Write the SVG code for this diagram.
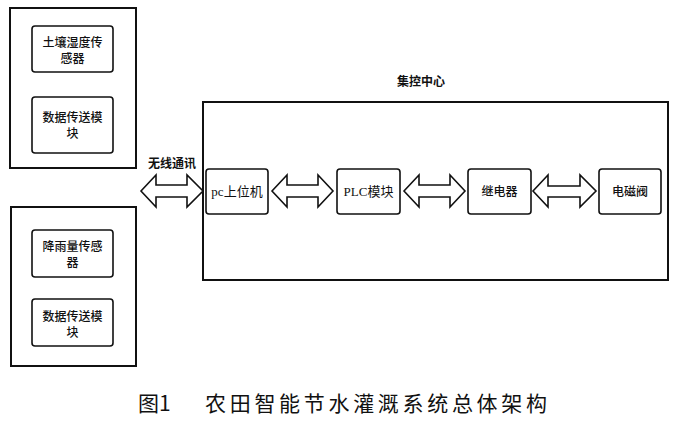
<svg xmlns="http://www.w3.org/2000/svg" width="700" height="425" viewBox="0 0 700 425">
<style>
.outer{fill:#fff;stroke:#111;stroke-width:2}
.box{fill:#fff;stroke:#111;stroke-width:1.6}
.arr{fill:#fff;stroke:#111;stroke-width:1.6;stroke-linejoin:miter}
.t{font-family:"Noto Sans CJK SC","Noto Sans",sans-serif;font-size:12px;fill:#111;text-anchor:middle;font-weight:500}
.s{font-family:"Liberation Serif","Noto Sans CJK SC",serif;font-size:13px;fill:#111;text-anchor:middle}
.b{font-family:"Noto Sans CJK SC",sans-serif;font-size:12px;font-weight:700;fill:#111;text-anchor:middle}
.cap{font-family:"Noto Sans CJK SC",sans-serif;font-size:21px;fill:#111;font-weight:400}
</style>
<rect width="700" height="425" fill="#fff"/>
<g id="group-top">
<rect class="outer" x="10" y="8" width="126" height="160"/>
</g>
<g id="soil-sensor"><rect class="box" x="32" y="26" width="81" height="46" rx="3"/><text class="t" x="72.5" y="47">土壤湿度传</text><text class="t" x="72.5" y="63">感器</text></g>
<g id="data-tx-1"><rect class="box" x="32" y="97" width="81" height="56" rx="3"/><text class="t" x="72.5" y="122">数据传送模</text><text class="t" x="72.5" y="138">块</text></g>
<g id="group-bottom">
<rect class="outer" x="11" y="207" width="125" height="159"/>
</g>
<g id="rain-sensor"><rect class="box" x="32" y="230" width="81" height="47" rx="3"/><text class="t" x="72.5" y="251">降雨量传感</text><text class="t" x="72.5" y="267">器</text></g>
<g id="data-tx-2"><rect class="box" x="32" y="299" width="81" height="47" rx="3"/><text class="t" x="72.5" y="321">数据传送模</text><text class="t" x="72.5" y="337">块</text></g>
<g id="control-center"><rect class="outer" x="203" y="102" width="465" height="178"/><text class="b" x="421" y="86">集控中心</text></g>
<g id="pc"><rect class="box" x="206" y="169" width="62" height="45" rx="3"/><text class="s" x="237" y="196">pc上位机</text></g>
<g id="plc"><rect class="box" x="337" y="169" width="63" height="45" rx="3"/><text class="s" x="368.5" y="196">PLC模块</text></g>
<g id="relay"><rect class="box" x="468" y="169" width="63" height="45" rx="3"/><text class="t" x="499.5" y="196">继电器</text></g>
<g id="valve"><rect class="box" x="599" y="169" width="62" height="45" rx="3"/><text class="t" x="630" y="196">电磁阀</text></g>
<g id="connectors">
<path class="arr" d="M141 191 L156 175 L156 185 L187 185 L187 175 L203 191 L187 207 L187 197 L156 197 L156 207 Z"/>
<text class="b" x="172" y="168">无线通讯</text>
<path class="arr" d="M272 191 L287 175 L287 185 L318 185 L318 175 L333 191 L318 207 L318 197 L287 197 L287 207 Z"/>
<path class="arr" d="M404 191 L419 175 L419 185 L450 185 L450 175 L465 191 L450 207 L450 197 L419 197 L419 207 Z"/>
<path class="arr" d="M533 191 L548 175 L548 186 L580 186 L580 175 L596 191 L580 207 L580 197 L548 197 L548 207 Z"/>
</g>
<g id="caption">
<text class="cap" x="138" y="411">图1</text>
<text class="cap" x="205" y="411" textLength="342" lengthAdjust="spacing">农田智能节水灌溉系统总体架构</text>
</g>
</svg>
